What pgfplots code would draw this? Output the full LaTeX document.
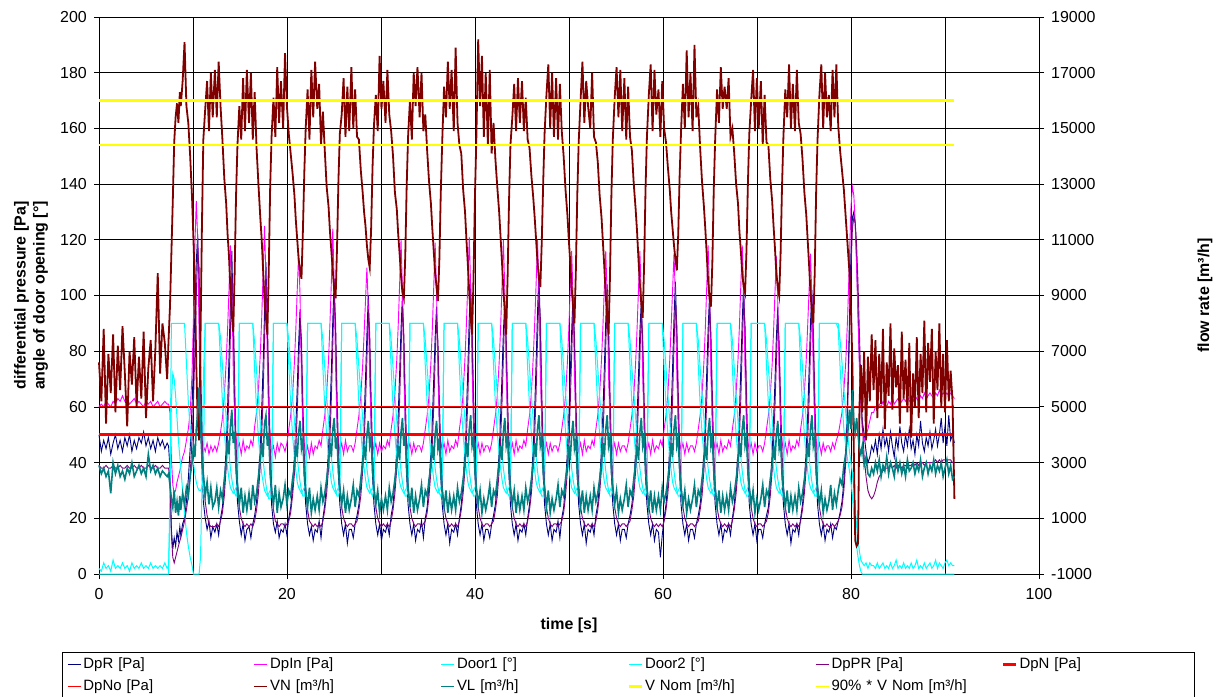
\documentclass[border=0pt]{standalone}
\usepackage{pgfplots}
\pgfplotsset{compat=1.18}
\usepackage{pgfplotstable}
\usepackage{fontspec}
\setmainfont{Liberation Sans}
\definecolor{cDpR}{HTML}{000080}
\definecolor{cDpIn}{HTML}{FF00FF}
\definecolor{cDoor}{HTML}{00FFFF}
\definecolor{cDpPR}{HTML}{800080}
\definecolor{cRed}{HTML}{FF0000}
\definecolor{cVN}{HTML}{800000}
\definecolor{cVL}{HTML}{008080}
\definecolor{cYel}{HTML}{FFFF00}
\pgfplotstableread{
t R In PR D1 D2 VN VL
0.00 50 60 39 0 2 6600 2900
0.25 44 61 38 0 1 5200 2600
0.50 48 60 38 0 4 7800 2800
0.75 45 62 39 0 2 4400 2500
1.00 49 61 38 0 3 6900 2700
1.25 43 60 38 0 1 5500 1900
1.50 47 62 39 0 5 7600 3000
1.75 50 61 38 0 2 4800 2600
2.00 45 63 38 0 3 7200 2900
2.25 48 62 39 0 2 5600 2500
2.50 44 64 38 0 4 7900 2700
2.75 49 62 38 0 2 6200 2400
3.00 46 63 39 0 3 4300 2800
3.25 50 61 38 0 1 7000 2600
3.50 44 62 38 0 4 5800 3000
3.75 48 63 39 0 2 7500 2500
4.00 45 61 38 0 3 5000 2700
4.25 49 62 38 0 2 6800 2900
4.50 47 61 39 0 4 5300 2600
4.75 51 60 38 0 2 7700 2800
5.00 46 62 38 0 3 4600 2500
5.25 49 61 39 0 2 6400 3300
5.50 45 62 38 0 4 7400 2700
5.75 48 60 38 0 2 5200 2900
6.00 44 61 39 0 3 7100 2600
6.25 49 62 38 0 2 9800 2800
6.50 46 60 38 0 3 6200 2500
6.75 48 61 39 0 2 8000 2700
7.00 45 62 38 0 4 7300 2600
7.25 47 61 38 0 2 6000 2500
7.40 46 61 38 0 3 7400 2600
7.55 38 58 34 30 20 8600 2200
7.70 16 42 14 90 62 10500 1700
7.85 9 32 6 90 72 12400 1400
8.00 13 29 4 90 70 14500 2000
8.15 10 30 6 90 64 15400 1200
8.30 15 33 8 90 56 15900 1600
8.45 12 35 10 90 48 15200 1100
8.60 17 37 12 90 42 16300 1800
8.70 14 39 13 90 38 15800 1300
8.90 18 42 16 90 30 16700 1900
9.10 20 44 19 90 22 18100 1500
9.30 26 48 23 76 15 15800 2100
9.50 34 52 28 62 10 15200 1800
9.70 45 58 36 52 6 14000 2500
9.90 60 72 48 44 3 12500 3000
10.05 76 92 62 40 0 11000 3600
10.20 94 118 80 36 0 9400 3200
10.35 112 134 100 33 0 6500 4200
10.50 122 120 116 31 0 4500 4800
10.65 102 86 110 30 0 3800 5700
10.80 64 58 80 30 6 7500 4300
10.95 38 50 52 31 30 11500 3200
11.10 26 46 36 34 70 14600 2600
11.30 20 44 26 90 90 15700 1800
11.50 16 47 21 90 90 16700 2300
11.70 19 43 18 90 90 14900 1500
11.90 13 46 17 90 90 17000 2100
12.10 17 44 17 90 90 15400 1400
12.33 15 46 17 90 90 17100 1600
12.53 18 44 18 90 90 15400 2100
12.73 14 47 17 90 90 17400 1400
12.93 20 51 19 76 85 15800 2000
13.13 24 56 22 62 75 14600 1700
13.33 32 64 28 51 65 13200 2400
13.53 46 76 38 43 56 12300 3000
13.68 60 88 50 38 49 11200 3800
13.83 78 102 66 34 43 10400 3300
13.98 98 118 86 31 38 9200 4300
14.13 116 104 108 30 34 8300 4900
14.28 92 74 96 29 31 7700 3700
14.43 58 56 70 30 29 9800 4100
14.58 37 49 47 31 28 12600 2800
14.73 26 45 33 33 30 14400 2200
14.93 19 47 24 90 90 15800 1500
15.13 14 43 20 90 90 14600 2100
15.33 18 48 18 90 90 16800 1200
15.53 12 44 17 90 90 14900 1800
15.73 16 46 18 90 90 17100 1300
15.96 17 45 17 90 90 15200 1900
16.16 13 48 18 90 90 17000 1300
16.36 18 46 17 90 90 14600 2200
16.56 21 53 19 73 83 16300 1600
16.76 26 58 23 59 73 14300 1900
16.96 34 66 29 49 63 13000 2500
17.16 47 79 39 41 54 11800 3100
17.31 59 92 50 36 47 11000 3700
17.46 75 108 64 33 41 9900 3200
17.61 94 125 84 30 36 8800 4400
17.76 112 106 104 29 32 8200 4700
17.91 88 76 92 28 29 7600 3600
18.06 56 57 68 29 27 9900 4000
18.21 36 49 46 30 27 12900 2600
18.36 25 44 32 32 29 14700 2000
18.56 18 46 23 90 90 16100 1500
18.76 15 42 19 90 90 14700 2200
18.96 19 47 18 90 90 17200 1200
19.16 13 44 17 90 90 15200 1900
19.36 16 47 18 90 90 16700 1400
19.59 15 46 18 90 90 15000 1700
19.79 18 44 17 90 90 17700 2200
19.99 14 47 18 90 90 15800 1500
20.19 20 52 19 75 84 14800 2000
20.39 24 57 22 61 74 14100 1800
20.59 31 64 28 50 64 13400 2400
20.79 42 76 36 42 55 12600 2900
20.94 53 88 45 37 48 11700 3600
21.09 67 102 58 33 42 11000 3200
21.24 83 115 74 31 37 10300 4100
21.39 95 100 92 30 33 9900 4500
21.54 78 70 84 29 30 9600 3500
21.69 52 54 62 30 28 11300 3800
21.84 34 47 43 31 28 13400 2600
21.99 25 43 31 33 30 15000 2000
22.19 18 46 23 90 90 16400 1400
22.39 14 42 19 90 90 14600 2100
22.59 17 47 18 90 90 17100 1200
22.79 12 43 17 90 90 15400 1700
22.99 16 46 18 90 90 17400 1300
23.22 15 45 17 90 90 15700 1800
23.42 19 48 18 90 90 16600 1300
23.62 13 46 17 90 90 14400 2100
23.82 20 52 19 74 84 15600 1600
24.02 25 57 23 60 74 14200 1900
24.22 33 65 29 50 64 12900 2400
24.42 45 77 38 42 55 12200 3000
24.57 57 90 49 37 48 11300 3700
24.72 73 105 63 33 42 10600 3200
24.87 91 124 82 31 37 9900 4200
25.02 106 104 100 30 33 9200 4600
25.17 86 74 90 29 30 8900 3500
25.32 55 55 66 30 28 10700 3900
25.47 36 48 45 31 28 13100 2700
25.62 25 44 32 33 30 14800 2100
25.82 18 47 24 90 90 15500 1500
26.02 14 43 20 90 90 16800 2000
26.22 18 48 18 90 90 14700 1200
26.42 11 44 17 90 90 16500 1800
26.62 16 46 18 90 90 14900 1300
26.85 16 46 18 90 90 17200 1700
27.05 13 44 17 90 90 15000 2200
27.25 18 47 18 90 90 16400 1400
27.45 21 52 19 75 84 14700 2000
27.65 25 57 23 61 74 14600 1800
27.85 32 64 28 51 65 13500 2400
28.05 43 75 37 43 56 12700 3000
28.20 55 86 47 38 49 12000 3600
28.35 70 98 60 34 43 11500 3100
28.50 86 110 77 31 38 10800 4000
28.65 100 96 95 30 34 10300 4500
28.80 82 70 86 29 31 10000 3600
28.95 53 54 64 30 29 11400 3900
29.10 35 48 44 31 28 13600 2700
29.25 25 44 32 33 30 15100 2100
29.45 18 47 24 90 90 16200 1500
29.65 14 43 20 90 90 14900 2000
29.85 18 47 18 90 90 17600 1200
30.05 12 44 17 90 90 15700 1700
30.25 16 46 18 90 90 16700 1300
30.48 15 45 17 90 90 15200 1800
30.68 18 48 18 90 90 17100 1300
30.88 14 46 17 90 90 15500 2100
31.08 21 52 19 74 84 14900 1600
31.28 25 57 23 60 74 14000 1900
31.48 33 65 29 50 64 12700 2400
31.68 45 77 38 42 55 12100 3000
31.83 57 89 48 37 48 11200 3600
31.98 72 104 62 33 42 10500 3100
32.13 88 120 80 31 37 9700 4100
32.28 100 102 96 30 33 9100 4600
32.43 82 72 86 29 30 8900 3600
32.58 54 55 65 30 28 10400 4000
32.73 35 48 45 31 28 12900 2700
32.88 25 44 32 33 30 14700 2100
33.08 18 47 24 90 90 16000 1400
33.28 14 43 20 90 90 14600 2100
33.48 18 47 18 90 90 17000 1200
33.68 12 44 17 90 90 15800 1800
33.88 16 46 18 90 90 17200 1300
34.11 15 46 18 90 90 15400 1700
34.31 19 44 17 90 90 17000 2200
34.51 13 47 18 90 90 14900 1400
34.71 20 52 19 75 84 15500 2000
34.91 24 57 22 61 74 14200 1800
35.11 32 64 28 51 65 13100 2400
35.31 44 76 37 43 56 12300 2900
35.46 55 88 47 38 49 11400 3600
35.61 70 103 60 34 43 10600 3100
35.76 85 119 77 31 38 9800 4000
35.91 96 101 92 30 34 9300 4500
36.06 80 71 83 29 31 8800 3500
36.21 53 55 63 30 29 10300 3800
36.36 35 48 44 31 28 12700 2600
36.51 25 44 32 33 30 14500 2000
36.71 18 47 24 90 90 16500 1400
36.91 14 43 20 90 90 15400 2000
37.11 18 48 18 90 90 17400 1200
37.31 11 44 17 90 90 15700 1800
37.51 16 46 18 90 90 17100 1300
37.74 15 45 17 90 90 14900 1800
37.94 18 48 18 90 90 17900 1300
38.14 14 46 17 90 90 15200 2100
38.34 20 52 19 74 84 14400 1600
38.54 25 57 23 60 74 14100 1900
38.74 33 65 29 50 64 12800 2400
38.94 46 78 38 42 55 12000 3000
39.09 58 90 49 37 48 11000 3700
39.24 74 105 63 33 42 10100 3200
39.39 92 121 82 31 37 9100 4200
39.54 104 103 98 30 33 8200 4700
39.69 85 73 89 29 30 7600 3600
39.84 55 55 66 30 28 9600 3900
39.99 36 48 45 31 28 12500 2700
40.14 25 44 32 33 30 14600 2100
40.34 18 47 24 90 90 18200 1500
40.54 14 43 20 90 90 15800 2000
40.74 18 47 18 90 90 17600 1200
40.94 12 44 17 90 90 14700 1700
41.14 16 46 18 90 90 17000 1300
41.37 16 46 18 90 90 14400 1700
41.57 13 44 17 90 90 17100 2200
41.77 18 47 18 90 90 14100 1400
41.97 21 52 19 75 84 15200 2000
42.17 25 57 23 61 74 13900 1800
42.37 32 64 28 51 65 12900 2400
42.57 44 76 37 43 56 12000 3000
42.72 56 88 48 38 49 11100 3600
42.87 71 103 61 34 43 10200 3100
43.02 87 120 78 31 38 9200 4100
43.17 98 102 94 30 34 8400 4600
43.32 80 72 85 29 31 7600 3600
43.47 53 55 64 30 29 9700 3900
43.62 35 48 44 31 28 12400 2700
43.77 25 44 32 33 30 14400 2100
43.97 18 47 24 90 90 15400 1500
44.17 14 43 20 90 90 16600 2000
44.37 18 48 18 90 90 14900 1200
44.57 12 44 17 90 90 16800 1800
44.77 16 46 18 90 90 15200 1300
45.00 15 45 17 90 90 16700 1800
45.20 18 48 18 90 90 14900 1300
45.40 14 46 17 90 90 16100 2100
45.60 20 52 19 74 84 14600 1600
45.80 25 57 23 60 74 14300 1900
46.00 33 65 29 50 64 13300 2400
46.20 46 78 39 42 55 12500 3000
46.35 59 90 50 37 48 11800 3700
46.50 76 104 65 33 42 11000 3200
46.65 94 120 84 31 37 10200 4200
46.80 108 102 100 30 33 9600 4700
46.95 88 72 92 29 30 9300 3600
47.10 56 55 67 30 28 10900 3900
47.25 36 48 45 31 28 13000 2700
47.40 25 44 32 33 30 14800 2100
47.60 18 47 24 90 90 16200 1400
47.80 14 43 20 90 90 17300 2000
48.00 18 47 18 90 90 15000 1200
48.20 12 44 17 90 90 17000 1700
48.40 16 46 18 90 90 14700 1300
48.63 15 46 18 90 90 16800 1700
48.83 19 44 17 90 90 14600 2200
49.03 13 47 18 90 90 16600 1400
49.23 20 52 19 75 84 14900 2000
49.43 24 57 22 61 74 14000 1800
49.63 32 64 28 51 65 12800 2400
49.83 44 76 37 43 56 11900 2900
49.98 56 88 47 38 49 11000 3600
50.13 71 102 61 34 43 10200 3100
50.28 87 116 78 31 38 9300 4000
50.43 100 100 95 30 34 8600 4500
50.58 82 71 86 29 31 8000 3500
50.73 54 55 64 30 29 9900 3800
50.88 35 48 44 31 28 12600 2600
51.03 25 44 32 33 30 14500 2000
51.23 18 47 24 90 90 16000 1400
51.43 14 43 20 90 90 17400 2000
51.63 18 48 18 90 90 15200 1200
51.83 11 44 17 90 90 16700 1800
52.03 16 46 18 90 90 15800 1300
52.26 15 45 17 90 90 15000 1800
52.46 18 48 18 90 90 17000 1300
52.66 14 46 17 90 90 14700 2100
52.86 21 52 19 74 84 14500 1600
53.06 25 57 23 60 74 13800 1900
53.26 33 65 29 50 64 12600 2400
53.46 45 77 38 42 55 11800 3000
53.61 58 89 49 37 48 10900 3700
53.76 74 103 63 33 42 10000 3200
53.91 91 116 82 31 37 9000 4200
54.06 104 100 98 30 33 8200 4700
54.21 85 71 89 29 30 7600 3600
54.36 55 55 66 30 28 9700 3900
54.51 36 48 45 31 28 12600 2700
54.66 25 44 32 33 30 14600 2100
54.86 18 47 24 90 90 16100 1500
55.06 14 43 20 90 90 17200 2000
55.26 18 47 18 90 90 15400 1200
55.46 12 44 17 90 90 17100 1700
55.66 16 46 18 90 90 14900 1300
55.89 16 46 18 90 90 16800 1700
56.09 13 44 17 90 90 14600 2200
56.29 18 47 18 90 90 16500 1400
56.49 21 52 19 75 84 14700 2000
56.69 25 57 23 61 74 14200 1800
56.89 32 64 28 51 65 13000 2400
57.09 44 76 37 43 56 12100 3000
57.24 56 88 47 38 49 11300 3600
57.39 71 102 61 34 43 10300 3100
57.54 87 116 78 31 38 9400 4100
57.69 98 100 94 30 34 8700 4600
57.84 80 71 85 29 31 8200 3600
57.99 53 55 64 30 29 10100 3900
58.14 35 48 44 31 28 12800 2700
58.29 25 44 32 33 30 14700 2100
58.49 18 47 24 90 90 16200 1400
58.69 14 43 20 90 90 17300 2000
58.89 18 48 18 90 90 14900 1200
59.09 12 44 17 90 90 17100 1800
59.29 16 46 18 90 90 15500 1300
59.52 15 45 17 90 90 16400 1800
59.72 6 48 18 90 90 14700 1300
59.92 14 46 17 90 90 16700 2100
60.12 20 52 19 74 84 15000 1600
60.32 25 57 23 60 74 14500 1900
60.52 33 65 29 50 64 13600 2400
60.72 46 77 38 42 55 12800 3000
60.87 58 89 49 37 48 12000 3700
61.02 74 102 63 33 42 11400 3200
61.17 92 115 82 31 37 10800 4200
61.32 105 99 98 30 33 10300 4700
61.47 86 71 89 29 30 9900 3600
61.62 55 55 66 30 28 11200 3900
61.77 36 48 45 31 28 13300 2700
61.92 25 44 32 33 30 14900 2100
62.12 18 47 24 90 90 16600 1500
62.32 14 43 20 90 90 15000 2000
62.52 18 47 18 90 90 17800 1200
62.72 12 44 17 90 90 15400 1700
62.92 16 46 18 90 90 17000 1300
63.15 16 46 18 90 90 14900 1700
63.35 13 44 17 90 90 18000 2200
63.55 18 47 18 90 90 15400 1400
63.75 21 52 19 75 84 15800 2000
63.95 25 57 23 61 74 14300 1800
64.15 32 64 28 51 65 13100 2400
64.35 44 76 37 43 56 12200 3000
64.50 56 88 48 38 49 11400 3600
64.65 72 103 62 34 43 10500 3100
64.80 88 118 79 31 38 9500 4100
64.95 100 101 96 30 34 8900 4600
65.10 82 71 86 29 31 8600 3600
65.25 54 55 65 30 29 10200 3900
65.40 35 48 44 31 28 12800 2700
65.55 25 44 32 33 30 14600 2100
65.75 18 47 24 90 90 16400 1400
65.95 14 43 20 90 90 15200 2000
66.15 18 48 18 90 90 17200 1200
66.35 12 44 17 90 90 15700 1800
66.55 16 46 18 90 90 16500 1300
66.78 15 45 17 90 90 15700 1800
66.98 18 48 18 90 90 16800 1300
67.18 14 46 17 90 90 14700 2100
67.38 20 52 19 74 84 15000 1600
67.58 25 57 23 60 74 14100 1900
67.78 33 65 29 50 64 13000 2400
67.98 45 77 38 42 55 12300 3000
68.13 58 89 49 37 48 11300 3700
68.28 74 104 63 33 42 10600 3200
68.43 91 118 82 31 37 9800 4200
68.58 104 102 98 30 33 9300 4700
68.73 85 72 89 29 30 9100 3600
68.88 55 55 66 30 28 10600 3900
69.03 36 48 45 31 28 13000 2700
69.18 25 44 32 33 30 14800 2100
69.38 18 47 24 90 90 16000 1500
69.58 14 43 20 90 90 17100 2000
69.78 18 47 18 90 90 14900 1200
69.98 12 44 17 90 90 16800 1700
70.18 16 46 18 90 90 15000 1300
70.41 16 46 18 90 90 16700 1700
70.61 13 44 17 90 90 14400 2200
70.81 18 47 18 90 90 16200 1400
71.01 21 52 19 75 84 14500 2000
71.21 24 57 22 61 74 14400 1800
71.41 32 64 28 51 65 13200 2400
71.61 43 75 37 43 56 12400 2900
71.76 55 87 47 38 49 11500 3600
71.91 69 101 60 34 43 10700 3100
72.06 85 114 76 31 38 9800 4000
72.21 96 98 92 30 34 9300 4500
72.36 79 70 83 29 31 9000 3500
72.51 52 54 63 30 29 10500 3800
72.66 35 48 44 31 28 12900 2600
72.81 25 44 32 33 30 14700 2000
73.01 18 47 24 90 90 16400 1400
73.21 14 43 20 90 90 15400 2000
73.41 18 48 18 90 90 17300 1200
73.61 11 44 17 90 90 15000 1800
73.81 16 46 18 90 90 16600 1300
74.04 15 45 17 90 90 14900 1800
74.24 18 48 18 90 90 17100 1300
74.44 14 46 17 90 90 15200 2100
74.64 20 52 19 74 84 14800 1600
74.84 25 57 23 60 74 13900 1900
75.04 33 65 29 50 64 12700 2400
75.24 45 77 38 42 55 11900 3000
75.39 57 89 48 37 48 11000 3700
75.54 73 102 62 33 42 10100 3200
75.69 90 115 81 31 37 9100 4200
75.84 102 99 96 30 33 8400 4700
75.99 84 71 88 29 30 8000 3600
76.14 55 55 66 30 28 9800 3900
76.29 36 48 45 31 28 12700 2700
76.44 25 44 32 33 30 14600 2100
76.64 18 47 24 90 90 16200 1500
76.84 14 43 20 90 90 17300 2000
77.04 18 47 18 90 90 15000 1200
77.24 12 44 17 90 90 17000 1700
77.44 16 46 18 90 90 15400 1300
77.64 15 46 17 90 90 16200 1600
77.84 18 44 17 90 90 14900 2200
78.04 13 47 18 90 90 17100 1300
78.24 17 45 17 90 90 15400 1900
78.44 16 48 18 90 90 17300 1500
78.64 19 50 19 88 90 15100 2000
78.84 22 54 21 74 84 14200 2400
79.04 26 58 24 62 76 13500 2200
79.24 33 66 30 52 66 12800 2900
79.44 45 76 40 46 58 11800 3300
79.64 64 92 58 41 50 10800 4000
79.84 92 114 86 37 44 9800 4900
80.00 116 132 110 33 40 8500 4200
80.15 128 139 124 28 36 6500 5600
80.30 130 136 128 21 30 3400 4500
80.45 126 126 126 15 24 200 4100
80.60 112 110 118 10 17 0 4600
80.75 94 92 104 6 12 100 4000
80.90 76 74 86 3 8 5000 3500
81.05 62 60 68 1 5 6500 3300
81.20 55 52 54 0 4 4800 3600
81.40 50 48 42 0 3 7000 2900
81.60 44 50 35 0 4 3800 3200
81.80 40 52 30 0 2 6800 2600
82.00 42 55 28 0 4 5200 2500
82.20 46 58 27 0 3 7600 2800
82.40 44 58 28 0 3 5600 2600
82.60 48 60 30 0 2 7400 3000
82.80 43 59 33 0 4 4600 2700
83.00 50 61 35 0 2 6900 3100
83.20 45 60 36 0 3 5100 2500
83.40 52 62 37 0 4 7800 2900
83.60 46 61 38 0 2 4200 2700
83.80 49 60 38 0 3 6600 3200
84.00 44 62 38 0 2 5400 2600
84.20 51 61 39 0 4 8000 3000
84.40 46 63 38 0 2 4900 2800
84.60 42 61 39 0 3 7100 2500
84.80 49 62 38 0 5 5700 3100
85.00 45 63 39 0 2 6500 2700
85.20 53 61 39 0 3 4400 3000
85.40 47 62 38 0 2 7700 2600
85.60 44 63 39 0 4 5300 2900
85.80 50 62 39 0 2 6700 2500
86.00 46 64 38 0 3 4800 3100
86.20 52 62 39 0 2 7300 2700
86.40 45 63 39 0 4 3900 2800
86.60 48 62 40 0 2 6200 3000
86.80 43 64 39 0 3 5000 2600
87.00 50 63 40 0 5 7500 2900
87.20 46 62 39 0 2 4600 2700
87.40 55 64 40 0 3 6900 3100
87.60 47 63 40 0 2 5500 2500
87.80 44 65 39 0 4 8100 2800
88.00 49 63 40 0 2 4800 3000
88.20 46 64 40 0 3 7300 2600
88.40 51 65 40 0 4 5900 2900
88.60 45 64 40 0 2 7800 2700
88.80 48 63 40 0 3 4400 3100
89.00 52 65 41 0 5 7000 2600
89.20 46 64 40 0 2 5600 2900
89.40 50 66 41 0 4 8000 2700
89.60 56 64 40 0 3 5000 3000
89.80 47 65 41 0 2 6900 2500
90.00 53 64 41 0 4 4800 2800
90.20 46 65 41 0 5 7400 3100
90.40 57 64 41 0 3 5200 2600
90.60 48 65 41 0 4 6300 2900
90.80 50 64 40 0 3 5200 2400
91.00 47 63 40 0 3 1700 2500
}\data
\begin{document}
\begin{tikzpicture}
\begin{axis}[
  scale only axis, width=940bp, height=557bp,
  xmin=0, xmax=100, ymin=0, ymax=200,
  clip=false,
  xtick={0,20,...,100}, minor xtick={10,30,...,90},
  ytick={0,20,...,200},
  xmajorgrids, xminorgrids, ymajorgrids,
  grid style={black, line width=0.8bp},
  minor grid style={black, line width=0.8bp},
  tick align=outside, major tick length=5bp, minor tick length=0pt,
  xtick pos=left, ytick pos=left,
  axis line style={black, line width=0.8bp},
  tick style={black, line width=0.8bp},
  ticklabel style={font=\fontsize{16}{19}\selectfont, inner sep=0pt},
  /pgf/number format/assume math mode=true,
  yticklabel style={xshift=-7bp},
  xticklabel style={yshift=-9bp},
  xlabel={time [s]},
  xlabel style={font=\bfseries\fontsize{16}{19}\selectfont, at={(axis description cs:0.5,-0.0916)}, anchor=center},
  ylabel={differential pressure [Pa]\\angle of door opening [°]},
  ylabel style={font=\bfseries\fontsize{16}{19}\selectfont, align=center, at={(axis description cs:-0.0723,0.5)}, anchor=center},
  legend columns=6,
  legend style={at={(axis description cs:-0.03936,-0.14004)}, anchor=north west, draw=black, line width=0.8bp,
    font=\fontsize{15}{18}\selectfont, column sep=0bp, inner xsep=5bp, inner ysep=1bp,
    cells={anchor=west},
    nodes={text width=168bp, text height=11bp, text depth=3bp, inner xsep=2bp, inner ysep=4bp, align=left}},
  legend image code/.code={\draw[#1] (0bp,0bp) -- (13bp,0bp);},
]
\addplot[cDpR, line width=0.9bp] table[x=t,y=R]{\data};
\addlegendentry{DpR [Pa]}
\addplot[cDpIn, line width=0.9bp] table[x=t,y=In]{\data};
\addlegendentry{DpIn [Pa]}
\addplot[cDoor, line width=1bp] table[x=t,y=D1]{\data};
\addlegendentry{Door1 [°]}
\addplot[cDoor, line width=1bp] table[x=t,y=D2]{\data};
\addlegendentry{Door2 [°]}
\addplot[cDpPR, line width=0.9bp] table[x=t,y=PR]{\data};
\addlegendentry{DpPR [Pa]}
\addplot[cRed, line width=3bp] coordinates {(0,50) (91,50)};
\addlegendentry{DpN [Pa]}
\addplot[cRed, line width=1bp] coordinates {(0,60) (91,60)};
\addlegendentry{DpNo [Pa]}
\addlegendimage{cVN, line width=1.8bp}
\addlegendentry{VN [m³/h]}
\addlegendimage{cVL, line width=1.8bp}
\addlegendentry{VL [m³/h]}
\addlegendimage{cYel, line width=3bp}
\addlegendentry{V Nom [m³/h]}
\addlegendimage{cYel, line width=1.5bp}
\addlegendentry{90\% * V Nom [m³/h]}
\end{axis}
\begin{axis}[
  scale only axis, width=940bp, height=557bp,
  xmin=0, xmax=100, ymin=-1000, ymax=19000,
  clip=false,
  axis x line=none, axis y line*=right,
  ytick={-1000,1000,...,19000},
  scaled y ticks=false,
  tick align=outside, major tick length=5bp,
  axis line style={black, line width=0.8bp},
  tick style={black, line width=0.8bp},
  ticklabel style={font=\fontsize{16}{19}\selectfont, inner sep=0pt},
  /pgf/number format/assume math mode=true,
  /pgf/number format/1000 sep={},
  yticklabel style={xshift=7bp},
  ylabel={flow rate [m³/h]},
  ylabel style={font=\bfseries\fontsize{16}{19}\selectfont, at={(axis description cs:1.1766,0.5)}, anchor=center},
]
\addplot[cVN, line width=1.8bp] table[x=t,y=VN]{\data};
\addplot[cVL, line width=1.6bp] table[x=t,y=VL]{\data};
\addplot[cYel, line width=3bp] coordinates {(0,16000) (91,16000)};
\addplot[cYel, line width=1.5bp] coordinates {(0,14400) (91,14400)};
\end{axis}
\pgfresetboundingbox
\path[use as bounding box] (-99bp,-123bp) rectangle (1133bp,574bp);
\end{tikzpicture}
\end{document}
